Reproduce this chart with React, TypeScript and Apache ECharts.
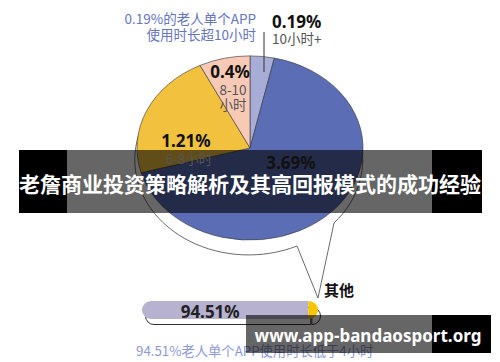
import React, { useEffect, useRef } from 'react';
import * as echarts from 'echarts';

// ---- data ----
const pieNames = ['10小时+', '4-6小时', '6-8小时', '8-10小时'];
const pieValues = [0.19, 3.69, 1.21, 0.4];
const pieSubLabels = [['10小时+'], [], ['6-8小时'], ['8-10', '小时']];
const pieColors = ['#a7add6', '#5b6db5', '#f2c13d', '#f8cab6'];

const barNames = ['低于4小时', '其他'];
const barValues = [94.51, 5.49];
const barColors = ['#b7b2cf', '#f7c600'];

const titleText = '老詹商业投资策略解析及其高回报模式的成功经验';
const noteTop = [`${pieValues[0]}%的老人单个APP`, '使用时长超10小时'];
const noteBottom = `${barValues[0]}%老人单个APP使用时长低于4小时`;
const watermark = 'www.app-bandaosport.org';

// ---- layout ----
const PIE_CX = 250;
const PIE_CY = 148;
const PIE_R = 113;
const PIE_SY = 0.815;
const FONT = '"Noto Sans", "Noto Sans CJK SC", sans-serif';
const CJK = '"Noto Sans CJK SC", "Noto Sans", sans-serif';

// label anchor positions for each slice: [valueX, valueY, subX, subY, align]
const pieLabelPos: [number, number, number, number, string][] = [
  [272, 21, 272, 38, 'left'],
  [291, 162, 291, 178, 'center'],
  [186, 140, 189, 158, 'center'],
  [230, 71, 233, 88.5, 'center'],
];

echarts.graphic.registerShape(
  'bubble',
  echarts.graphic.extendPath('M297,246 A114,95 0 1 1 334,223 L318,298 Z', {})
);

function txt(x: number, y: number, text: string, size: number, color: string, weight: string, align = 'center', family = FONT, extra: any = {}) {
  return {
    type: 'text',
    x,
    y,
    z: 100,
    style: {
      text,
      fill: color,
      fontSize: size,
      fontWeight: weight,
      fontFamily: family,
      lineHeight: size,
      align,
      verticalAlign: 'middle',
      textAlign: align,
      textVerticalAlign: 'middle',
      ...extra,
    },
  };
}

export default function App() {
  const ref = useRef<HTMLDivElement>(null);
  useEffect(() => {
    document.body.style.margin = '0';
    if (!ref.current) return;
    const chart = echarts.init(ref.current, undefined, { renderer: 'svg' });
    const total = pieValues.reduce((a, b) => a + b, 0);

    const graphics: any[] = [
      {
        type: 'bubble',
        x: 0,
        y: 0,
        z: 0,
        style: { fill: '#fff', stroke: '#444', lineWidth: 0.8 },
      },
      {
        type: 'line',
        z: 90,
        shape: { x1: 264, y1: 32, x2: 264, y2: 72 },
        style: { stroke: '#333', lineWidth: 1 },
      },
      txt(256, 18, noteTop[0], 13.5, '#6575c0', 'normal', 'right', CJK),
      txt(256, 34, noteTop[1], 13.5, '#6575c0', 'normal', 'right', CJK),
    ];
    pieValues.forEach((v, i) => {
      const p = pieLabelPos[i];
      graphics.push(txt(p[0], p[1], `${v}%`, 17, '#111', 'bold', p[4]));
      pieSubLabels[i].forEach((s, k) => {
        graphics.push(txt(p[2], p[3] + k * 15, s, 13.5, '#555', 'normal', p[4], CJK));
      });
    });
    // title band
    graphics.push(
      { type: 'rect', z: 95, shape: { x: 19, y: 150, width: 463, height: 63 }, style: { fill: 'rgba(0,0,0,0.6)' } },
      { type: 'rect', z: 95, shape: { x: 19, y: 150, width: 48, height: 63 }, style: { fill: '#000' } },
      { type: 'rect', z: 95, shape: { x: 432, y: 150, width: 50, height: 63 }, style: { fill: '#000' } },
      { ...txt(250, 183, titleText, 21, '#fff', 'bold', 'center', CJK), z: 120 }
    );
    // bar annotations
    graphics.push(
      txt(339, 289, barNames[1], 15, '#111', 'bold', 'center', CJK),
      { ...txt(136, 350.5, noteBottom, 13.3, '#8c98d6', 'normal', 'left', CJK), z: 50 }
    );
    // watermark
    graphics.push(
      { type: 'rect', z: 95, shape: { x: 246, y: 315, width: 186, height: 38 }, style: { fill: 'rgba(0,0,0,0.6)' } },
      { type: 'rect', z: 95, shape: { x: 432, y: 315, width: 59, height: 38 }, style: { fill: '#000' } },
      { ...txt(368, 335, watermark, 17, '#fff', 'bold', 'center', FONT), z: 120 }
    );

    const pieSeries: any = {
      type: 'custom',
      coordinateSystem: 'none',
      z: 5,
      data: pieValues.map((v, i) => ({ value: v, name: pieNames[i] })),
      renderItem: (params: any, api: any) => {
        const i = params.dataIndex;
        let before = 0;
        for (let j = 0; j < i; j++) before += pieValues[j];
        const start = -Math.PI / 2 + (before / total) * Math.PI * 2;
        const end = start + (api.value(0) / total) * Math.PI * 2;
        return {
          type: 'sector',
          x: PIE_CX,
          y: PIE_CY,
          scaleY: PIE_SY,
          shape: { cx: 0, cy: 0, r0: 0, r: PIE_R, startAngle: start, endAngle: end, clockwise: true },
          style: { fill: pieColors[i], stroke: '#3a3a3a', lineWidth: 0.7 },
        };
      },
    };

    const barFill = barValues.map((v, i) => ({
      type: 'bar',
      name: barNames[i],
      xAxisIndex: 0,
      yAxisIndex: 0,
      stack: 'fill',
      data: [v],
      barWidth: 18,
      z: 4,
      itemStyle: { color: barColors[i], borderRadius: i === 0 ? [9, 0, 0, 9] : [0, 9, 9, 0] },
      label:
        i === 0
          ? {
              show: true,
              position: 'inside',
              offset: [-15, 1],
              formatter: '{c}%',
              fontSize: 17,
              fontWeight: 'bold',
              fontFamily: FONT,
              color: '#222',
            }
          : { show: false },
    }));
    const barOutline = barValues.map((v, i) => ({
      type: 'bar',
      name: barNames[i] + ' ',
      xAxisIndex: 1,
      yAxisIndex: 1,
      stack: 'outline',
      data: [v],
      barWidth: 18,
      z: 3,
      itemStyle: {
        color: 'rgba(0,0,0,0)',
        borderColor: '#333',
        borderWidth: 1,
        borderRadius: i === 0 ? [9, 0, 0, 9] : [0, 9, 9, 0],
      },
    }));

    chart.setOption({
      animation: false,
      backgroundColor: '#fff',
      grid: [
        { left: 142, top: 301, width: 176, height: 18 },
        { left: 145, top: 307, width: 176, height: 18 },
      ],
      xAxis: [
        { type: 'value', min: 0, max: 100, show: false, gridIndex: 0 },
        { type: 'value', min: 0, max: 100, show: false, gridIndex: 1 },
      ],
      yAxis: [
        { type: 'category', data: ['占比'], show: false, gridIndex: 0 },
        { type: 'category', data: ['占比'], show: false, gridIndex: 1 },
      ],
      series: [pieSeries, ...barFill, ...barOutline],
      graphic: { elements: graphics },
    });
    return () => chart.dispose();
  }, []);
  return <div ref={ref} style={{ width: 500, height: 362 }} />;
}
